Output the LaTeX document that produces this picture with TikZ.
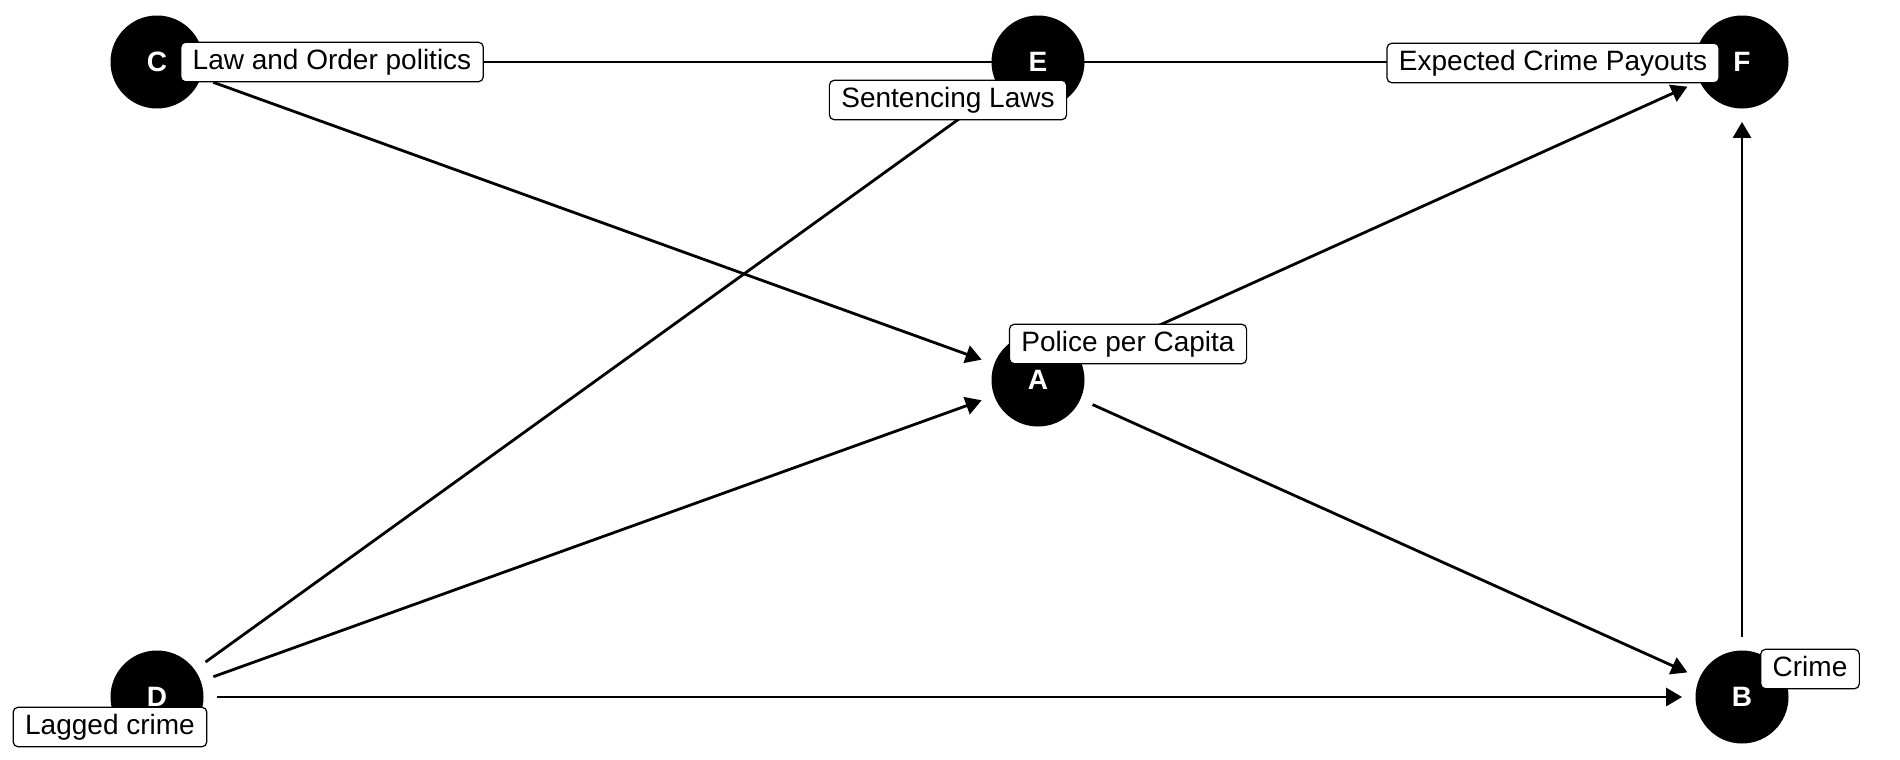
\documentclass[tikz,border=0pt]{standalone}
\usepackage{fontspec}
\setmainfont{Liberation Sans}
\usetikzlibrary{arrows.meta,backgrounds}

\begin{document}
\begin{tikzpicture}[->,>={Triangle[length=8pt,width=9pt]},shorten >=6pt,shorten <=6pt, line width=1.4pt, x=0.5pt, y=-0.5pt,
  nodo/.style={circle, fill=black, minimum size=46.5pt, inner sep=0pt, text=white, font=\fontsize{14}{16}\selectfont\bfseries},
  eje/.style={line width=1.4pt},
  etiqueta/.style={draw=black, line width=0.6pt, fill=white, rounded corners=2.5pt, inner xsep=6pt, inner ysep=3.5pt, text height=10pt, text depth=2.8pt, font=\fontsize{14}{16}\selectfont}]
\useasboundingbox (0,0) rectangle (1900,760);
% Nodos
\node [nodo] (C) at  (157,62) {C};
\node [nodo] (E) at (1038,62) {E};
\node [nodo] (F) at (1742,62) {F};
\node [nodo] (A) at (1038,380) {A};
\node [nodo] (D) at  (157,697) {D};
\node [nodo] (B) at (1742,697) {B};
% Ejes
\begin{pgfonlayer}{background}
\begin{scope}[eje]
\path (C) edge (F);
\path (C) edge (A);
\path (D) edge (E);
\path (D) edge (A);
\path (D) edge (B);
\path (A) edge (B);
\path (A) edge (F);
\path (B) edge (F);
\end{scope}
\end{pgfonlayer}
% Etiquetas
\node [etiqueta] (Cl) at  (332,62) {Law and Order politics};
\node [etiqueta] (El) at  (948,100) {Sentencing Laws};
\node [etiqueta] (Fl) at (1553,63) {Expected Crime Payouts};
\node [etiqueta] (Al) at (1128,344) {Police per Capita};
\node [etiqueta] (Bl) at (1810,669) {Crime};
\node [etiqueta] (Dl) at  (110,727) {Lagged crime};
\end{tikzpicture}
\end{document}
